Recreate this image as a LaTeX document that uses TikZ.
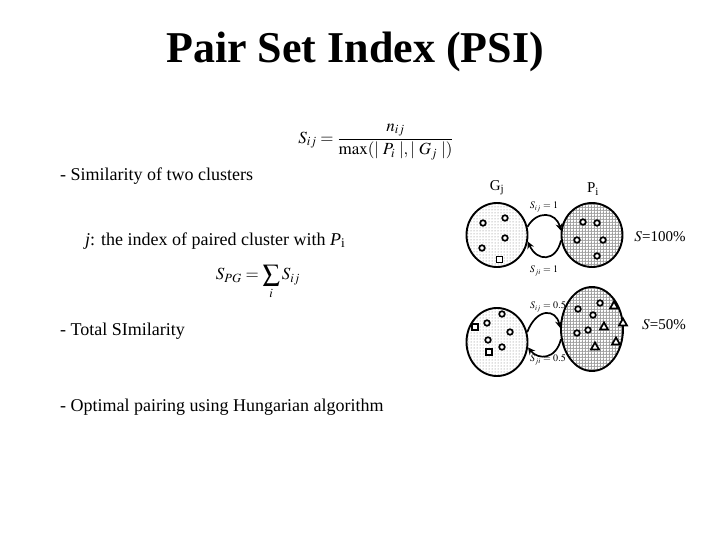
\documentclass[tikz,border=0pt]{standalone}
\usepackage{mathptmx}
\usepackage{fontspec}
\setmainfont{Liberation Serif}
\usetikzlibrary{patterns,arrows.meta,shapes.geometric}
\tikzset{
  body/.style={anchor=base west, font=\fontsize{18}{21}\selectfont, inner sep=0},
  gclust/.style={ellipse, draw, line width=1.9pt, pattern=dots, pattern color=black!55, inner sep=0},
  pclust/.style={ellipse, draw, line width=1.9pt, preaction={pattern=grid, pattern color=black!30}, pattern=dots, pattern color=black!70, inner sep=0},
  link/.style={line width=1.7pt, -{Stealth[length=7pt,width=7pt]}},
  mk/.style={line width=1.7pt, fill=white},
  tiny/.style={font=\fontsize{10}{12}\selectfont, inner sep=0},
  pct/.style={font=\fontsize{15}{18}\selectfont, inner sep=0},
  clab/.style={font=\fontsize{15}{18}\selectfont, inner sep=0},
}
\begin{document}
\begin{tikzpicture}[x=1pt,y=-1pt]
\useasboundingbox (0,0) rectangle (720,540);
% title
\node[anchor=base, font=\bfseries\fontsize{44}{50}\selectfont, inner sep=0] (title) at (355,63) {Pair Set Index (PSI)};
% formulas
\node[font=\fontsize{17}{20}\selectfont, inner sep=0] (f1) at (376,142) {$\displaystyle S_{ij}=\frac{n_{ij}}{\max(|\;P_i\;|,|\;G_j\;|)}$};
\node[font=\fontsize{17}{20}\selectfont, inner sep=0] (f2) at (258,282) {$\displaystyle S_{PG}=\sum_i S_{ij}$};
% text
\node[body] (t1) at (60,181) {- Similarity of two clusters};
\node[body] (t2) at (85,245) {\textit{j}: the index of paired cluster with \textit{P}\textsubscript{i}};
\node[body] (t3) at (60,335) {- Total SImilarity};
\node[body] (t4) at (60,411) {- Optimal pairing using Hungarian algorithm};

% top diagram
\node[gclust, minimum width=61pt, minimum height=64pt] (G1) at (497,235) {};
\node[pclust, minimum width=61pt, minimum height=64pt] (P1) at (592,235) {};
\node[clab] (lg) at (497,188) {G\textsubscript{j}};
\node[clab] (lp) at (593,189) {P\textsubscript{i}};
\draw[link] (G1.15) .. controls (537,210) and (556,212) .. (P1.172);
\draw[link] (P1.190) .. controls (556,262) and (537,262) .. (G1.-12);
\node[tiny] (a1) at (544,207) {$S_{ij}=1$};
\node[tiny] (a2) at (544,271) {$S_{ji}=1$};
\node[pct] (s1) at (660,237) {$S$=100\%};
\foreach \p in {(483,223),(505,218),(505,238),(482,248),(583,222),(597,223),(577,240),(603,240),(597,256)}
  \draw[mk] \p circle (2.8pt);
\draw[mk] (496.5,256.5) rectangle (502.5,262.5);

% bottom diagram
\node[gclust, minimum width=61pt, minimum height=68pt] (G2) at (497,342) {};
\node[pclust, minimum width=62pt, minimum height=84pt] (P2) at (592,329) {};
\draw[link] (G2.18) .. controls (537,307) and (556,309) .. (P2.178);
\draw[link] (P2.198) .. controls (556,360) and (538,360) .. (G2.-10);
\node[tiny] (a3) at (548,307) {$S_{ij}=0.5$};
\node[tiny] (a4) at (548,360) {$S_{ji}=0.5$};
\node[pct] (s2) at (664,325) {$S$=50\%};
\foreach \p in {(487,323),(502,314),(510,332),(488,340),(502,347),(578,309),(600,303),(593,315),(577,333),(588,330)}
  \draw[mk] \p circle (2.8pt);
\foreach \p in {(475,327),(489,352)}
  \draw[mk] \p ++(-3,-3) rectangle ++(6,6);
\foreach \p in {(614,306),(604,327),(623,323),(595,347),(616,342)}
  \draw[mk, line join=miter] \p ++(0,-4.5) -- ++(4,7) -- ++(-8,0) -- cycle;
\end{tikzpicture}
\end{document}
